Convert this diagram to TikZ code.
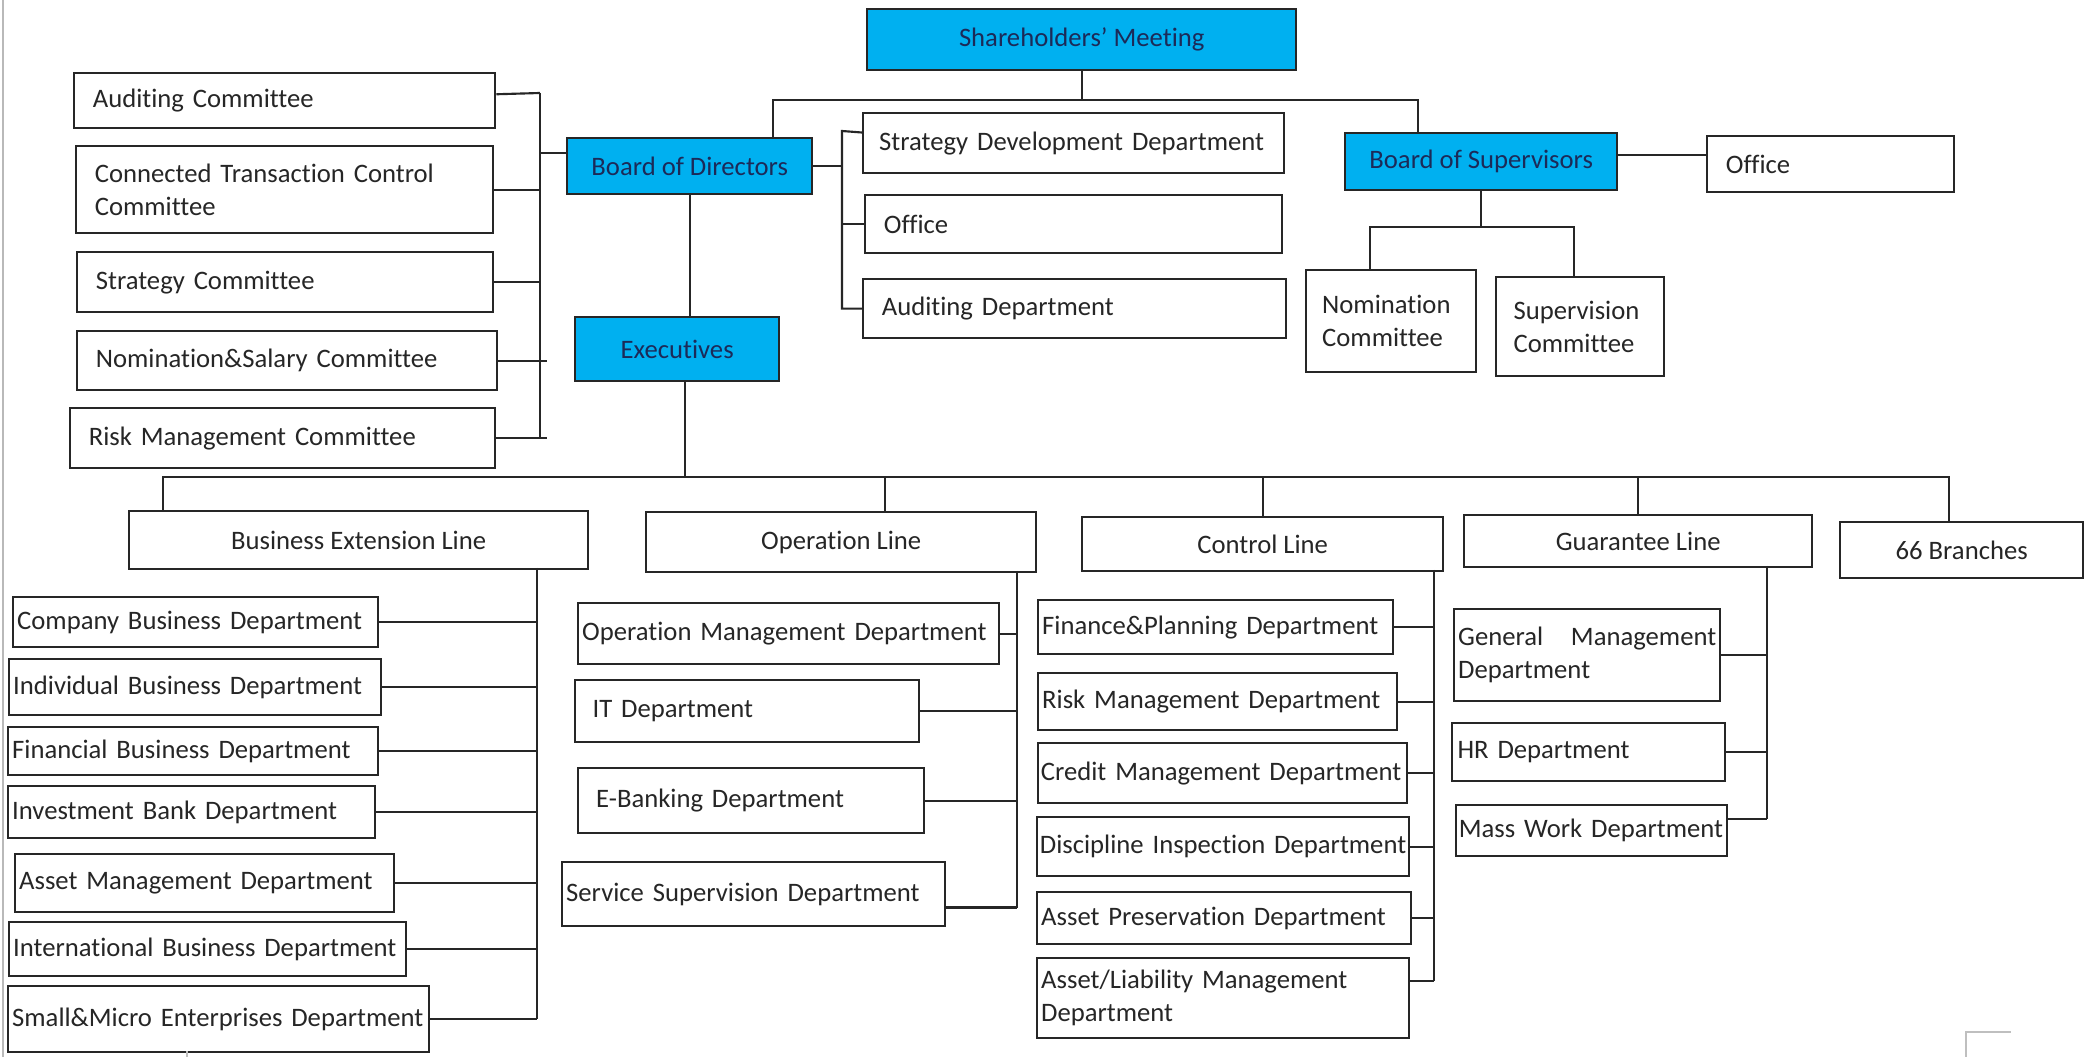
\documentclass[tikz,border=0pt]{standalone}
\usepackage{fontspec}
\setmainfont{Carlito}[Ligatures=NoCommon]
\usepackage{tikz}

\definecolor{headblue}{RGB}{0,176,240}
\definecolor{headtext}{RGB}{28,42,88}
\definecolor{rule}{RGB}{38,38,38}

\begin{document}
\begin{tikzpicture}[
x=0.375pt, y=-0.375pt,
box/.style={draw=rule, line width=0.9pt, anchor=north west, inner sep=0pt, text=black!85, font=\fontsize{10}{12.5}\selectfont},
head/.style={box, fill=headblue, text=headtext},
unit/.style={box, align=center},
dept/.style={box, align=left, inner xsep=#1},
dept/.default=7pt,
conn/.style={draw=rule, line width=0.8pt}
]
\fill[white] (0,0) rectangle (2089,1057);
\useasboundingbox (0,0) rectangle (2089,1057);
%Nodes
\node[head, minimum width=160.9pt, minimum height=22.9pt] (sm)  at (866,8)    {Shareholders’ Meeting};
\node[head, minimum width=91.9pt,  minimum height=21pt]   (bod) at (566,137)  {Board of Directors};
\node[head, minimum width=76.5pt,  minimum height=24pt]   (exe) at (574,316)  {Executives};
\node[head, minimum width=102pt,   minimum height=21.4pt] (bos) at (1344,132) {Board of Supervisors};
%committees
\node[dept, text width=143.9pt, minimum height=20.6pt] (ac)  at (73,72)  {Auditing Committee};
\node[dept, text width=142.4pt, minimum height=32.6pt] (ctc) at (75,145) {Connected Transaction Control\\Committee};
\node[dept, text width=142pt,   minimum height=22.5pt] (sc)  at (76,251) {Strategy Committee};
\node[dept, text width=143.5pt, minimum height=22.1pt] (nsc) at (76,330) {Nomination\&Salary Committee};
\node[dept, text width=145.4pt, minimum height=22.5pt] (rmc) at (69,407) {Risk Management Committee};
\node[dept=6pt, text width=145.9pt, minimum height=22.5pt]  (sdd)  at (862,112) {Strategy~Development~Department};
\node[dept, text width=142.4pt, minimum height=21.75pt]     (off1) at (864,194) {Office};
\node[dept, text width=144.6pt, minimum height=22.1pt]      (aud)  at (862,278) {Auditing Department};
\node[dept, text width=78.6pt, minimum height=21pt]           (off2) at (1706,135) {Office};
\node[dept=6pt, text width=51.75pt, minimum height=38.25pt]   (nc)   at (1305,269) {Nomination\\Committee};
\node[dept=6.5pt, text width=50pt, minimum height=37.1pt]     (svc)  at (1495,276) {Supervision\\Committee};
%lines
\node[unit, minimum width=172.1pt, minimum height=21.75pt] (bel) at (128,510)  {Business Extension Line};
\node[unit, minimum width=146.25pt, minimum height=22.5pt] (opl) at (645,511)  {Operation Line};
\node[unit, minimum width=135.4pt, minimum height=20.25pt] (ctl) at (1081,516) {Control Line};
\node[unit, minimum width=130.5pt, minimum height=19.5pt]  (gul) at (1463,514) {Guarantee Line};
\node[unit, minimum width=91.1pt, minimum height=21pt]     (br)  at (1839,521) {66 Branches};
%business extension
\node[dept=1.5pt, text width=133.9pt, minimum height=18.75pt] (b1) at (12,596) {Company Business Department};
\node[dept=1.5pt, text width=136.5pt, minimum height=21pt]    (b2) at (8,658)  {Individual Business Department};
\node[dept=1.5pt, text width=135.75pt, minimum height=18pt]   (b3) at (7,726)  {Financial Business Department};
\node[dept=1.5pt, text width=134.6pt, minimum height=19.5pt]  (b4) at (7,785)  {Investment Bank Department};
\node[dept=1.5pt, text width=139.1pt, minimum height=21.75pt] (b5) at (14,853) {Asset Management Department};
\node[dept=1.5pt, text width=145.9pt, minimum height=20.25pt] (b6) at (8,921)  {International~Business~Department};
\node[dept=1.5pt, text width=154.9pt, minimum height=24.75pt] (b7) at (7,985)  {Small\&Micro~Enterprises~Department};
%operation
\node[dept=1.5pt, text width=154.9pt, minimum height=22.9pt]   (o1) at (577,602) {Operation~Management~Department};
\node[dept=6.5pt, text width=116pt, minimum height=23.25pt]    (o2) at (574,679) {IT Department};
\node[dept=6.75pt, text width=116.25pt, minimum height=24.4pt] (o3) at (577,767) {E-Banking Department};
\node[dept=1.5pt, text width=140.6pt, minimum height=24pt]     (o4) at (561,861) {Service Supervision Department};
%control
\node[dept=1.5pt, text width=130.1pt, minimum height=20.25pt] (c1) at (1037,599) {Finance\&Planning Department};
\node[dept=1.5pt, text width=131.6pt, minimum height=21.4pt]  (c2) at (1037,672) {Risk Management Department};
\node[dept=1pt, text width=136.4pt, minimum height=22.5pt]    (c3) at (1037,742) {Credit~Management~Department};
\node[dept=1pt, text width=137.5pt, minimum height=22.1pt]    (c4) at (1036,816) {Discipline~Inspection~Department};
\node[dept=1.5pt, text width=137.25pt, minimum height=19.5pt] (c5) at (1036,891) {Asset Preservation Department};
\node[dept=1.5pt, text width=136.5pt, minimum height=30pt]    (c6) at (1036,957) {Asset/Liability Management\\Department};
%guarantee
\node[dept=1.5pt, text width=96.75pt, minimum height=34.5pt] (g1) at (1453,608) {General\hfill Management\\Department};
\node[dept=2pt, text width=98.4pt, minimum height=21.75pt]   (g2) at (1451,722) {HR Department};
\node[dept=1pt, text width=99.6pt, minimum height=19.1pt]    (g3) at (1455,804) {Mass~Work~Department};
%Lines
\coordinate (tl) at (773,100);
\coordinate (tr) at (1418,100);
\draw[conn] (sm) -- (sm.south |- tl);
\draw[conn] (bod.north -| tl) -- (tl) -- (tr) -- (bos.north -| tr);
%board of directors
\coordinate (lb) at (540,93);
\draw[conn] (lb) -- (rmc.east -| lb);
\draw[conn] ([yshift=5pt]bod.west) -- ([yshift=5pt]bod.west -| lb);
\draw[conn] ([yshift=2.4pt]ac.east) -- (lb);
\draw[conn] (ctc.east) -- (ctc.east -| lb);
\draw[conn] (sc.east) -- (sc.east -| lb);
\draw[conn] (nsc.east) -- ++(49,0);
\draw[conn] (rmc.east) -- ++(51,0);
\coordinate (rb) at (842,131);
\draw[conn] (bod.east) -- (bod.east -| rb);
\draw[conn] ([yshift=4pt]sdd.west) -- (rb) -- (aud.west -| rb) -- (aud.west);
\draw[conn] (off1.west) -- (off1.west -| rb);
%board of supervisors
\draw[conn] ([yshift=2.4pt]bos.east) -- ([yshift=2.4pt]bos.east -| off2.west);
\coordinate (sl) at (1370,227);
\coordinate (sr) at (1574,227);
\draw[conn] (bos.south) -- (bos.south |- sl);
\draw[conn] (nc.north -| sl) -- (sl) -- (sr) -- (svc.north -| sr);
%executives
\draw[conn] (bod.south) -- (bod.south |- exe.north);
\coordinate (mb) at (685,477);
\coordinate (ml) at (163,477);
\coordinate (mr) at (1949,477);
\coordinate (mo) at (885,477);
\draw[conn] (exe.south -| mb) -- (mb);
\draw[conn] (bel.north -| ml) -- (ml) -- (mr) -- (br.north -| mr);
\draw[conn] (opl.north -| mo) -- (mo);
\draw[conn] (ctl.north) -- (ctl.north |- mb);
\draw[conn] (gul.north) -- (gul.north |- mb);
%business extension
\coordinate (bx) at (537,568);
\draw[conn] (bx) -- (b7.east -| bx);
\draw[conn] (b1.east) -- (b1.east -| bx);
\draw[conn] (b2.east) -- (b2.east -| bx);
\draw[conn] (b3.east) -- (b3.east -| bx);
\draw[conn] (b4.east) -- (b4.east -| bx);
\draw[conn] (b5.east) -- (b5.east -| bx);
\draw[conn] (b6.east) -- (b6.east -| bx);
\draw[conn] (b7.east) -- (b7.east -| bx);
%operation
\coordinate (ox) at (1017,571);
\draw[conn] (ox) -- ([yshift=-5pt]o4.east -| ox);
\draw[conn] (o1.east) -- (o1.east -| ox);
\draw[conn] (o2.east) -- (o2.east -| ox);
\draw[conn] (o3.east) -- (o3.east -| ox);
\draw[conn] ([yshift=-5pt]o4.east) -- ([yshift=-5pt]o4.east -| ox);
%control
\coordinate (cx) at (1434,570);
\draw[conn] (cx) -- ([yshift=6.4pt]c6.east -| cx);
\draw[conn] (c1.east) -- (c1.east -| cx);
\draw[conn] (c2.east) -- (c2.east -| cx);
\draw[conn] (c3.east) -- (c3.east -| cx);
\draw[conn] (c4.east) -- (c4.east -| cx);
\draw[conn] (c5.east) -- (c5.east -| cx);
\draw[conn] ([yshift=6.4pt]c6.east) -- ([yshift=6.4pt]c6.east -| cx);
%guarantee
\coordinate (gx) at (1767,566);
\draw[conn] (gx) -- ([yshift=4.3pt]g3.east -| gx);
\draw[conn] (g1.east) -- (g1.east -| gx);
\draw[conn] (g2.east) -- (g2.east -| gx);
\draw[conn] ([yshift=4.3pt]g3.east) -- ([yshift=4.3pt]g3.east -| gx);
%page marks
\draw[gray!55, line width=1.1pt] (3,0) -- (3,1057);
\draw[gray!50, line width=0.8pt] (1966,1057) -- (1966,1032) -- (2011,1032);
\draw[gray!50, line width=0.6pt] (187,1051) -- (187,1057);
\end{tikzpicture}
\end{document}
